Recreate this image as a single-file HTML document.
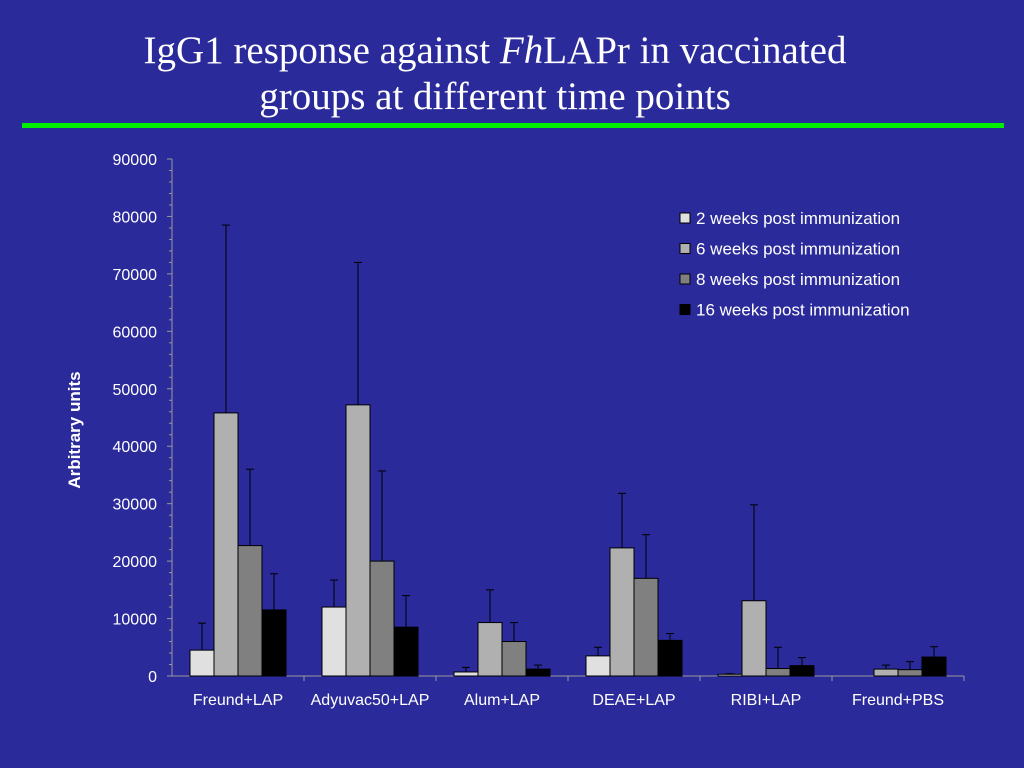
<!DOCTYPE html>
<html><head><meta charset="utf-8"><style>
body{margin:0;width:1024px;height:768px;background:#2a2a9b;overflow:hidden;font-family:"Liberation Sans",sans-serif}
.t{position:absolute;left:0;width:990px;text-align:center;color:#fff;font-family:"Liberation Serif",serif;font-size:39px;line-height:46px}
</style></head><body>
<div class="t" style="top:28px">IgG1 response against <i>Fh</i>LAPr in vaccinated<br>groups at different time points</div>
<div style="position:absolute;left:22px;top:123px;width:982px;height:5px;background:#00ee00"></div>
<svg id="c" width="1024" height="768" style="position:absolute;left:0;top:0"></svg>
<script>
const categories=["Freund+LAP","Adyuvac50+LAP","Alum+LAP","DEAE+LAP","RIBI+LAP","Freund+PBS"];
const seriesNames=["2 weeks post immunization","6 weeks post immunization","8 weeks post immunization","16 weeks post immunization"];
const w2=[4500,12000,700,3500,300,0];
const w6=[45800,47200,9300,22300,13100,1200];
const w8=[22700,20000,6000,17000,1300,1100];
const w16=[11500,8500,1200,6200,1800,3300];
const e2=[9200,16700,1500,5000,400,0];
const e6=[78500,72000,15000,31800,29800,1900];
const e8=[36000,35700,9300,24600,5000,2500];
const e16=[17800,14000,1900,7400,3200,5100];
const yTicks=[0,10000,20000,30000,40000,50000,60000,70000,80000,90000];
const colors=["#e0e0e0","#b0b0b0","#808080","#000"];
const vals=[w2,w6,w8,w16], errs=[e2,e6,e8,e16];
const svg=document.getElementById('c'),NS="http://www.w3.org/2000/svg";
const x0=172,x1=964,yb=676,yt=159,ymax=90000;
const y=v=>yb-(v/ymax)*(yb-yt);
const gw=(x1-x0)/categories.length,bw=24;
function mk(t,a,p){const e=document.createElementNS(NS,t);for(const k in a)e.setAttribute(k,a[k]);(p||svg).appendChild(e);return e;}
let ax=mk('line',{x1:x0,y1:yt,x2:x0,y2:yb,stroke:'#999'});


let bx=mk('line',{x1:x0,y1:yb,x2:x1,y2:yb,stroke:'#999'});


yTicks.forEach(v=>{mk('line',{x1:x0-5,y1:y(v),x2:x0,y2:y(v),stroke:'#999'});
const t=mk('text',{x:x0-15,y:y(v)+6,'text-anchor':'end',fill:'#fff','font-size':16});t.textContent=v;


if(v<ymax)for(let k=1;k<5;k++)mk('line',{x1:x0-3,y1:y(v+k*2000),x2:x0,y2:y(v+k*2000),stroke:'#999'});});
categories.forEach((c,i)=>{const gx=x0+i*gw+(gw-4*bw)/2;
mk('line',{x1:x0+(i+1)*gw,y1:yb,x2:x0+(i+1)*gw,y2:yb+5,stroke:'#999'});
const t=mk('text',{x:x0+i*gw+gw/2,y:yb+29,'text-anchor':'middle',fill:'#fff','font-size':16});t.textContent=c;


vals.forEach((s,j)=>{if(!s[i])return;const bx=gx+j*bw;
const r=mk('rect',{x:bx,y:y(s[i]),width:bw,height:yb-y(s[i]),fill:colors[j],stroke:'#000'});


const cx=bx+bw/2,et=y(errs[j][i]);
mk('line',{x1:cx,y1:y(s[i]),x2:cx,y2:et,stroke:'#000'});
mk('line',{x1:cx-4,y1:et,x2:cx+4,y2:et,stroke:'#000'});});});
const yl=mk('text',{transform:'translate(80,430) rotate(-90)','text-anchor':'middle',fill:'#fff','font-size':17,'font-weight':'bold'});yl.textContent='Arbitrary units';


seriesNames.forEach((n,j)=>{const ly=219+j*30.5;
const r=mk('rect',{x:680,y:ly-6,width:10,height:10,fill:colors[j],stroke:'#000'});


const t=mk('text',{x:696,y:ly+5,fill:'#fff','font-size':17});t.textContent=n;

});
</script>
</body></html>
